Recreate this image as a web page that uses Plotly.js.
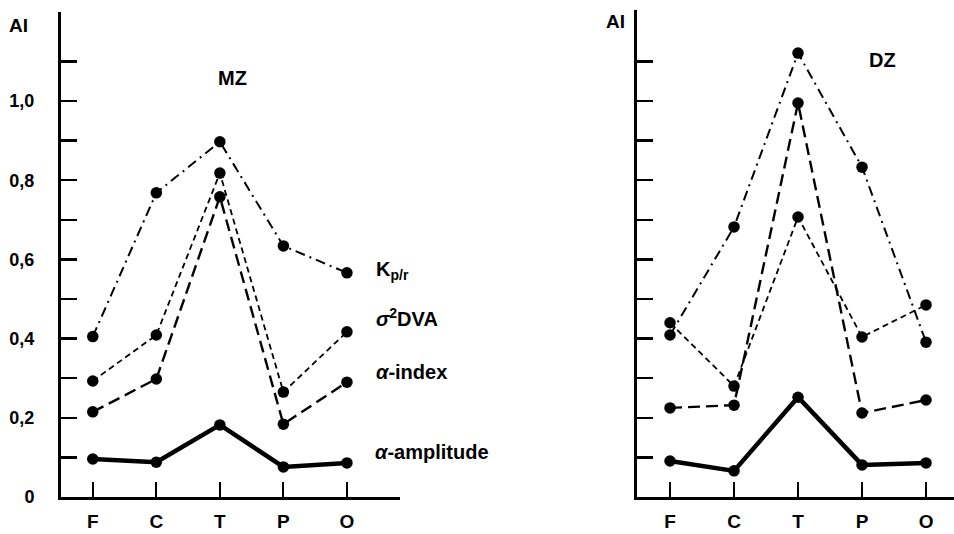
<!DOCTYPE html>
<html>
<head>
<meta charset="utf-8">
<script src="https://cdn.plot.ly/plotly-3.0.1.min.js"></script>
<style>
html,body{margin:0;padding:0;background:#fff;}
#chart{width:954px;height:534px;}
</style>
</head>
<body>
<div id="chart"></div>
<script>
// ---- data ----
const regions = ['F', 'C', 'T', 'P', 'O'];

// MZ panel
const mzKpr   = [0.405, 0.768, 0.897, 0.634, 0.566];
const mzDva   = [0.293, 0.409, 0.818, 0.265, 0.417];
const mzIndex = [0.215, 0.298, 0.758, 0.184, 0.290];
const mzAmp   = [0.096, 0.088, 0.182, 0.076, 0.086];

// DZ panel
const dzKpr   = [0.409, 0.682, 1.121, 0.833, 0.391];
const dzDva   = [0.440, 0.280, 0.707, 0.404, 0.485];
const dzIndex = [0.225, 0.232, 0.995, 0.212, 0.245];
const dzAmp   = [0.091, 0.066, 0.252, 0.081, 0.086];

const yMajorVals = [0, 0.2, 0.4, 0.6, 0.8, 1.0];
const yMajorText = ['0', '0,2', '0,4', '0,6', '0,8', '1,0'];
const yMinorVals = [0.1, 0.3, 0.5, 0.7, 0.9, 1.1];

const seriesLabels = ['K<sub>p/r</sub>', '<i>σ</i><sup>2</sup>DVA', '<i>α</i>-index', '<i>α</i>-amplitude'];
const panelTitles = ['MZ', 'DZ'];
const axisLabel = 'AI';

// ---- styles ----
const FONT = 'Liberation Sans, Arial, Helvetica, sans-serif';
const styles = [
  {dash: '10px,5px,2px,5px', width: 2},
  {dash: '6px,4px', width: 1.8},
  {dash: '12px,6px', width: 2.4},
  {dash: 'solid', width: 4.5}
];
const xIdx = [0, 1, 2, 3, 4];

function mk(y, s, xa, ya) {
  return {
    x: xIdx, y: y, xaxis: xa, yaxis: ya, type: 'scatter', mode: 'lines+markers',
    line: {color: '#000', width: s.width, dash: s.dash},
    marker: {color: '#000', size: 11.5},
    showlegend: false, hoverinfo: 'skip', cliponaxis: false
  };
}

const traces = [];
[mzKpr, mzDva, mzIndex, mzAmp].forEach((y, i) => traces.push(mk(y, styles[i], 'x', 'y')));
[dzKpr, dzDva, dzIndex, dzAmp].forEach((y, i) => traces.push(mk(y, styles[i], 'x2', 'y2')));

const W = 954, H = 534;
const px = v => v / W;
const py = v => 1 - v / H;

function xAxis(domain, range) {
  return {
    domain: domain, range: range, showgrid: false, zeroline: false,
    showline: true, linecolor: '#000', linewidth: 3,
    tickmode: 'array', tickvals: xIdx, ticktext: regions,
    ticks: 'inside', ticklen: 15, tickwidth: 2, tickcolor: '#000',
    ticklabelstandoff: 5,
    tickfont: {family: FONT, size: 19, color: '#000', weight: 'bold'}
  };
}
function yAxis(domain, range, labels, anchor) {
  return {
    domain: domain, range: range, anchor: anchor, showgrid: false, zeroline: false,
    showline: true, linecolor: '#000', linewidth: 3,
    tickmode: 'array', tickvals: yMajorVals, ticktext: yMajorText,
    ticks: 'inside', ticklen: 16, tickwidth: 2.5, tickcolor: '#000',
    minor: {tickmode: 'array', tickvals: yMinorVals, ticks: 'inside', ticklen: 16, tickwidth: 2.5, tickcolor: '#000', showgrid: false},
    showticklabels: labels, ticklabelstandoff: 20,
    tickfont: {family: FONT, size: 18, color: '#000', weight: 'bold'}
  };
}

const tf = (size) => ({family: FONT, size: size, color: '#000', weight: 'bold'});

const layout = {
  width: W, height: H,
  margin: {l: 0, r: 0, t: 0, b: 0},
  paper_bgcolor: '#fff', plot_bgcolor: 'rgba(0,0,0,0)',
  showlegend: false,
  xaxis: Object.assign(xAxis([px(61), px(400)], [-0.5, 4.835]), {anchor: 'y'}),
  yaxis: yAxis([37 / H, 522 / H], [0, 1.2247], true, 'x'),
  xaxis2: Object.assign(xAxis([px(637), 1], [-0.516, 4.437]), {anchor: 'y2'}),
  yaxis2: yAxis([37 / H, 524 / H], [0, 1.2298], false, 'x2'),
  annotations: [
    {text: axisLabel, xref: 'paper', yref: 'paper', x: px(7), y: py(25), xanchor: 'left', yanchor: 'middle', showarrow: false, font: tf(19)},
    {text: axisLabel, xref: 'paper', yref: 'paper', x: px(604), y: py(22), xanchor: 'left', yanchor: 'middle', showarrow: false, font: tf(19)},
    {text: panelTitles[0], xref: 'paper', yref: 'paper', x: px(232), y: py(78), xanchor: 'center', yanchor: 'middle', showarrow: false, font: tf(20)},
    {text: panelTitles[1], xref: 'paper', yref: 'paper', x: px(882), y: py(60), xanchor: 'center', yanchor: 'middle', showarrow: false, font: tf(20)},
    {text: seriesLabels[0], xref: 'paper', yref: 'paper', x: px(374), y: py(270), xanchor: 'left', yanchor: 'middle', showarrow: false, font: tf(20)},
    {text: seriesLabels[1], xref: 'paper', yref: 'paper', x: px(374), y: py(317), xanchor: 'left', yanchor: 'middle', showarrow: false, font: tf(20)},
    {text: seriesLabels[2], xref: 'paper', yref: 'paper', x: px(374), y: py(372), xanchor: 'left', yanchor: 'middle', showarrow: false, font: tf(20)},
    {text: seriesLabels[3], xref: 'paper', yref: 'paper', x: px(373), y: py(452), xanchor: 'left', yanchor: 'middle', showarrow: false, font: tf(20)}
  ]
};

Plotly.newPlot('chart', traces, layout, {displayModeBar: false, staticPlot: true});
</script>
</body>
</html>
